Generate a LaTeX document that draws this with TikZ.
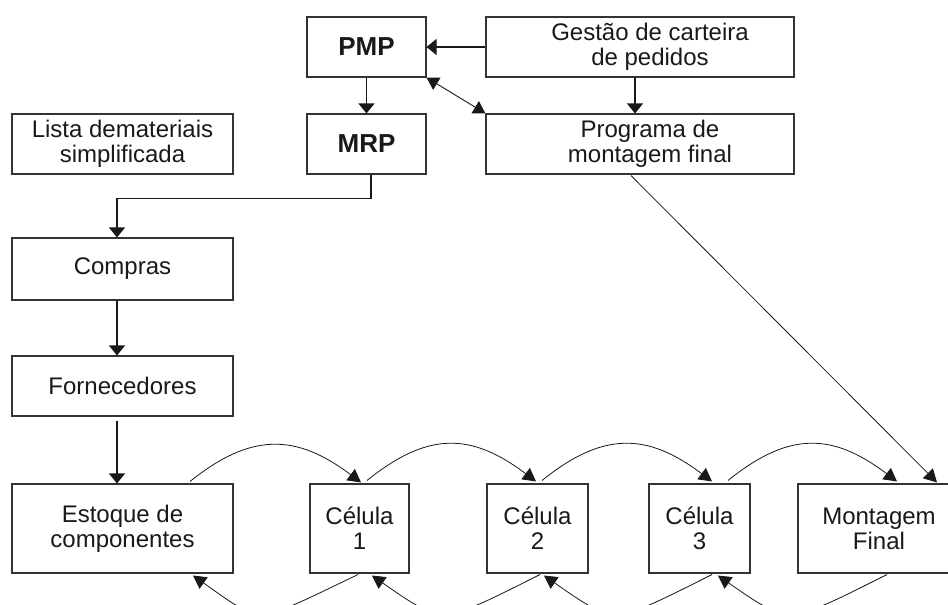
\documentclass[tikz,border=0pt]{standalone}
\usepackage{fontspec}
\setmainfont{Liberation Sans}
\usetikzlibrary{arrows.meta,calc}
\begin{document}
\begin{tikzpicture}[x=1pt,y=-1pt,
  box/.style={draw=black!80, line width=1.1pt, rectangle, inner sep=0pt, align=center,
    font=\fontsize{24}{25}\selectfont, text=black!90},
  bbox/.style={box, font=\fontsize{26}{28}\selectfont\bfseries},
  shtext/.style={label={[align=center, font=\fontsize{24}{25}\selectfont, text=black!90, xshift=10pt]center:{#1}}},
  arr/.style={line width=1.1pt, draw=black!90, -{Triangle[length=10pt,width=16pt]}},
  darr/.style={line width=0.9pt, draw=black!90, {Triangle[length=12pt,width=14pt]}-{Triangle[length=12pt,width=14pt]}},
  carr/.style={line width=0.8pt, draw=black!90, -{Triangle[length=13pt,width=14pt]}}
]
\useasboundingbox (0,0) rectangle (948,605);
\begin{scope}
\clip (0,0) rectangle (948,605);
% nodes
\node[bbox, minimum width=119pt, minimum height=60pt] (pmp) at (366.5,47) {PMP};
\node[box, minimum width=308pt, minimum height=60pt, shtext={Gestão de carteira\\de pedidos}] (ges) at (640,47) {};
\node[bbox, minimum width=119pt, minimum height=60pt] (mrp) at (366.5,144) {MRP};
\node[box, minimum width=308pt, minimum height=60pt, shtext={Programa de\\montagem final}] (prog) at (640,144) {};
\node[box, minimum width=221pt, minimum height=60pt] (lista) at (122.5,144) {Lista demateriais\\simplificada};
\node[box, minimum width=221pt, minimum height=62pt] (comp) at (122.5,269) {Compras};
\node[box, minimum width=221pt, minimum height=60pt] (forn) at (122.5,386) {Fornecedores};
\node[box, minimum width=221pt, minimum height=89pt] (est) at (122.5,528.5) {Estoque de\\componentes};
\node[box, minimum width=99pt, minimum height=89pt] (c1) at (359.5,528.5) {Célula\\1};
\node[box, minimum width=101pt, minimum height=89pt] (c2) at (537.5,528.5) {Célula\\2};
\node[box, minimum width=101pt, minimum height=89pt] (c3) at (699.5,528.5) {Célula\\3};
\node[box, minimum width=162pt, minimum height=89pt] (mont) at (879,528.5) {Montagem\\Final};
% straight connectors
\draw[arr] (ges.west) -- (pmp.east);
\draw[arr] (pmp.south) -- (mrp.north);
\draw[arr] ([xshift=-5pt]ges.south) -- ([xshift=-5pt]prog.north);
\draw[darr] (pmp.south east) -- (prog.north west);
\draw[arr] ([xshift=4.5pt]mrp.south) -- ++(0,24) -| ([xshift=-5.5pt]comp.north);
\draw[arr] ([xshift=-5.5pt]comp.south) -- ([xshift=-5.5pt]forn.north);
\draw[arr] ([xshift=-5.5pt,yshift=-4pt]forn.south) -- ([xshift=-5.5pt]est.north);
\draw[carr] ([xshift=-9pt,yshift=-1pt]prog.south) -- ([xshift=58pt,yshift=1pt]mont.north);
% top arcs
\draw[carr] ([xshift=67.5pt,yshift=2pt]est.north) .. controls +(61,-49) and +(-65,-49) .. ([xshift=1.5pt,yshift=1pt]c1.north);
\draw[carr] ([xshift=7.5pt,yshift=3pt]c1.north) .. controls +(61,-49) and +(-65,-49) .. ([xshift=-1.5pt,yshift=2pt]c2.north);
\draw[carr] ([xshift=4.5pt,yshift=3pt]c2.north) .. controls +(61,-49) and +(-65,-49) .. ([xshift=12.5pt,yshift=2pt]c3.north);
\draw[carr] ([xshift=28.5pt,yshift=3pt]c3.north) .. controls +(61,-49) and +(-65,-49) .. ([xshift=18pt,yshift=2pt]mont.north);
% bottom arcs
\draw[carr] ([xshift=-1.5pt,yshift=-1pt]c1.south) .. controls +(-105,50) and +(71,50) .. ([xshift=70.5pt,yshift=-2pt]est.south);
\draw[carr] ([xshift=2.5pt,yshift=-1pt]c2.south) .. controls +(-100,50) and +(72,50) .. ([xshift=12.5pt,yshift=-2pt]c1.south);
\draw[carr] ([xshift=12.5pt,yshift=-1pt]c3.south) .. controls +(-100,50) and +(72,50) .. ([xshift=6.5pt,yshift=-2pt]c2.south);
\draw[carr] ([xshift=8pt,yshift=-1pt]mont.south) .. controls +(-100,50) and +(72,50) .. ([xshift=18.5pt,yshift=-2pt]c3.south);
\end{scope}
\end{tikzpicture}
\end{document}
